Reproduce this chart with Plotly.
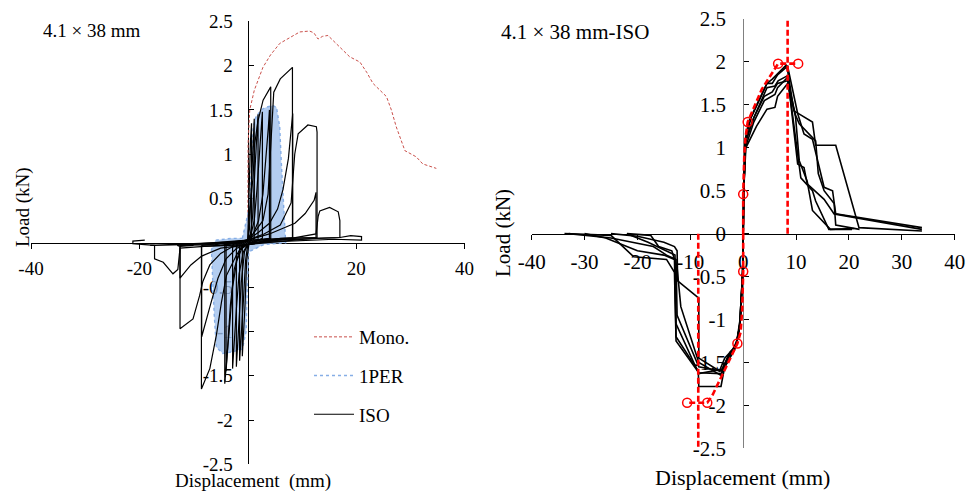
import plotly.graph_objects as go

# ---------------- Left panel data (4.1 x 38 mm) ----------------
mono_x = [0, 0.06, 0.37, 1.2, 2.8, 4.2, 5.9, 7.8, 9.6, 11.4, 12.2, 12.97, 13.8, 14.8, 16.5, 18.8, 20.7, 22.0, 23.1, 25.6, 26.5, 27.4, 29.0, 31.1, 32.3, 34.8]
mono_y = [0, 1.12, 1.50, 1.72, 1.98, 2.12, 2.25, 2.32, 2.38, 2.39, 2.37, 2.30, 2.33, 2.34, 2.24, 2.10, 2.04, 1.92, 1.80, 1.65, 1.50, 1.31, 1.04, 0.97, 0.89, 0.84]

per_x = [-1.0, 0.3, 0.8, 1.0, 1.5, 2.5, 3.4, 4.6, 5.3, 5.9, 6.2, 6.5, 6.8, 7.0, 3.0, 0.2, -0.1, -0.3, -1.0, -2.8, -4.6, -5.8, -6.2, -6.4, -6.7, -6.0, -3.0, -1.0]
per_y = [0.05, 0.4, 1.0, 1.3, 1.42, 1.5, 1.53, 1.55, 1.53, 1.31, 0.9, 0.56, 0.1, 0.0, -0.02, -0.1, -0.5, -1.0, -1.2, -1.23, -1.25, -1.18, -0.8, -0.5, -0.08, 0.03, 0.05, 0.05]

iso_x = [
    [0, 0.1, 0.3, 0.5, 0.7, 0.7, 0.3, -0.2, -0.5, -0.8, -1.0, -1.0, -0.5, 0],
    [-1.0, 0, 0.3, 0.6, 0.9, 1.2, 1.2, 0.5, 0, -0.4, -0.8, -1.2, -1.5, -1.5, -1.0],
    [-1.5, 0, 0.5, 0.9, 1.3, 1.6, 1.9, 1.9, 1.0, 0, -0.6, -1.2, -1.6, -1.9, -2.1, -2.1, -1.5],
    [-2.1, 0, 0.6, 1.2, 1.7, 2.1, 2.4, 2.7, 2.7, 1.5, 0, -0.8, -1.6, -2.1, -2.5, -2.8, -2.8, -2.1],
    [-2.8, 0, 0.37, 0.98, 1.29, 1.9, 2.83, 4.24, 4.24, 2.0, 0, -1.0, -2.0, -2.8, -3.3, -3.8, -4.24, -4.24, -2.8],
    [-4.24, 0, 1.0, 2.0, 2.8, 3.4, 3.8, 4.0, 4.0, 2.0, 0, -1.5, -2.5, -3.2, -3.6, -4.0, -4.0, -4.24],
    [-4.0, 0, 1.0, 2.8, 3.75, 4.06, 4.4, 4.8, 6.0, 8.25, 8.25, 5.0, 0, -0.97, -2.1, -3.94, -4.85, -5.78, -7.0, -8.55, -8.55, -5.0],
    [-5.0, 0, 2.0, 4.0, 5.5, 6.5, 7.5, 8.0, 8.3, 8.3, 4.0, 0, -2.0, -4.0, -5.5, -6.8, -7.8, -8.5, -8.5, -8.55],
    [-8.5, 0, 3.0, 6.0, 8.0, 8.67, 9.3, 11.1, 12.66, 12.79, 12.79, 8.0, 0, -3.0, -5.0, -7.0, -8.3, -8.9, -10.1, -12.5, -12.5, -10.0],
    [-12.5, -6.0, 0, 4.0, 8.7, 10.6, 12.25, 12.6, 12.6, 6.0, 0, -5.0, -8.5, -10.5, -12.5, -12.5, -13.0],
    [-13.0, 0, 8.0, 12.6, 13.0, 13.3, 15.1, 16.7, 17.0, 17.0, 12.0, 0, -8.0, -12.5, -12.9, -13.8, -15.6, -17.2, -17.2, -18.0],
    [-18.0, 0, 10.0, 17.0, 19.0, 21.0, 21.0, 16.0, 0, -10.0, -17.2, -19.0, -21.2, -21.2, -19.0],
]
iso_y = [
    [0, 0.3, 0.8, 1.15, 1.35, 0.03, 0.02, -0.2, -0.7, -1.1, -1.28, -0.03, -0.02, 0],
    [-0.02, 0.02, 0.15, 0.55, 1.0, 1.40, 0.04, 0.02, -0.02, -0.2, -0.65, -1.1, -1.33, -0.03, -0.02],
    [-0.02, 0.03, 0.1, 0.3, 0.8, 1.2, 1.45, 0.04, 0.02, -0.02, -0.1, -0.45, -0.9, -1.2, -1.40, -0.03, -0.02],
    [-0.02, 0.03, 0.1, 0.25, 0.6, 1.0, 1.3, 1.48, 0.05, 0.02, -0.02, -0.1, -0.35, -0.75, -1.15, -1.42, -0.03, -0.02],
    [-0.02, 0.03, 0.37, 0.74, 1.12, 1.38, 1.61, 1.76, 0.05, 0.03, -0.02, -0.05, -0.2, -0.5, -0.9, -1.3, -1.59, -0.03, -0.02],
    [-0.02, 0.03, 0.1, 0.25, 0.55, 0.95, 1.3, 1.5, 0.05, 0.03, -0.02, -0.08, -0.3, -0.7, -1.1, -1.45, -0.03, -0.02],
    [-0.02, 0.03, 0.10, 0.25, 0.55, 0.93, 1.3, 1.7, 1.85, 1.98, 0.05, 0.03, -0.02, -0.03, -0.14, -0.37, -0.67, -1.04, -1.42, -1.65, -0.04, -0.03],
    [-0.03, 0.03, 0.12, 0.22, 0.38, 0.6, 0.95, 1.25, 1.46, 0.06, 0.04, -0.02, -0.06, -0.18, -0.4, -0.68, -0.92, -1.06, -0.04, -0.03],
    [-0.03, 0.03, 0.1, 0.2, 0.45, 1.0, 1.23, 1.33, 1.31, 1.25, 0.06, 0.05, -0.02, -0.05, -0.12, -0.25, -0.44, -0.6, -0.86, -0.97, -0.04, -0.03],
    [-0.03, -0.02, 0.03, 0.1, 0.22, 0.33, 0.48, 0.57, 0.06, 0.05, -0.02, -0.06, -0.15, -0.25, -0.4, -0.04, -0.03],
    [-0.03, 0.03, 0.05, 0.1, 0.3, 0.36, 0.40, 0.35, 0.25, 0.06, 0.05, -0.02, -0.04, -0.06, -0.3, -0.35, -0.22, -0.18, -0.03, -0.03],
    [-0.03, 0.02, 0.04, 0.06, 0.08, 0.07, 0.03, 0.04, 0.0, -0.02, -0.03, -0.02, -0.01, 0.02, 0.03],
]

# ---------------- Right panel data (4.1 x 38 mm-ISO envelopes) ----------------
env_x = [
    [-33.8, -25.0, -20.7, -14.5, -13.0, -12.7, -8.4, -4.2, -3.0, -2.0, -1.2, -0.5, -0.1, 0, 0.1, 0.3, 1.0, 2.5, 4.5, 5.5, 6.3, 8.1, 8.4, 9.6, 13.1, 13.7, 17.5, 21.9, 33.8],
    [-33.0, -25.0, -17.0, -14.5, -12.7, -12.5, -8.4, -4.2, -2.5, -1.3, -0.6, -0.1, 0, 0.1, 0.4, 1.5, 3.0, 4.5, 5.5, 6.5, 8.4, 10.3, 11.5, 13.1, 15.3, 16.9, 17.5, 31.3, 33.8],
    [-22.0, -17.5, -16.0, -13.5, -12.5, -11.8, -8.4, -4.2, -3.0, -1.5, -0.7, -0.1, 0, 0.1, 0.4, 2.0, 4.5, 6.0, 6.6, 8.4, 10.3, 11.5, 12.1, 15.3, 17.2, 22.5, 33.8],
    [-30.0, -26.0, -20.0, -15.0, -13.0, -12.7, -8.5, -8.4, -4.2, -3.5, -1.6, -0.7, -0.1, 0, 0.1, 0.4, 2.0, 4.0, 6.0, 6.5, 8.4, 10.9, 13.1, 13.7, 16.2, 20.6],
    [-25.0, -20.0, -15.0, -13.0, -12.5, -12.4, -8.4, -8.4, -4.5, -3.5, -2.0, -1.2, -0.6, -0.1, 0, 0.1, 0.5, 2.5, 4.5, 6.0, 6.5, 8.4, 9.9, 10.6, 12.1, 13.1, 16.5, 21.0],
    [-22.0, -18.0, -12.9, -12.7, -8.4, -4.0, -2.5, -1.3, -0.5, -0.1, 0, 0.1, 0.5, 2.0, 4.0, 5.5, 6.5, 8.4, 9.9, 10.6, 13.7, 14.2, 15.3, 17.2, 17.5, 22.0],
]
env_y = [
    [0.0, -0.02, -0.27, -0.3, -0.45, -1.25, -1.62, -1.63, -1.5, -1.38, -1.28, -1.0, -0.45, 0, 0.45, 1.05, 1.3, 1.5, 1.75, 1.8, 1.85, 1.96, 1.9, 1.43, 1.30, 1.03, 1.03, 0.07, 0.03],
    [0.0, -0.05, -0.15, -0.25, -0.3, -0.95, -1.55, -1.6, -1.4, -1.3, -1.05, -0.45, 0, 0.5, 1.1, 1.35, 1.55, 1.75, 1.75, 1.85, 1.95, 1.40, 1.16, 1.10, 0.54, 0.5, 0.23, 0.09, 0.07],
    [0.0, -0.02, -0.15, -0.2, -0.4, -0.85, -1.5, -1.65, -1.45, -1.33, -1.1, -0.45, 0, 0.5, 1.05, 1.35, 1.7, 1.72, 1.78, 1.84, 0.81, 0.77, 0.58, 0.40, 0.23, 0.17, 0.05],
    [0.0, -0.05, -0.2, -0.25, -0.3, -1.2, -1.6, -1.78, -1.78, -1.55, -1.35, -1.1, -0.45, 0, 0.5, 1.0, 1.3, 1.55, 1.62, 1.7, 1.82, 0.65, 0.50, 0.38, 0.05, 0.05],
    [0.0, -0.03, -0.1, -0.15, -0.2, -0.55, -0.75, -1.45, -1.6, -1.45, -1.35, -1.25, -1.0, -0.45, 0, 0.5, 1.0, 1.25, 1.45, 1.47, 1.6, 1.75, 1.36, 0.85, 0.61, 0.27, 0.05, 0.06],
    [0.0, -0.1, -0.25, -1.05, -1.63, -1.58, -1.38, -1.3, -1.0, -0.45, 0, 0.5, 1.1, 1.35, 1.6, 1.65, 1.75, 1.78, 1.38, 1.28, 1.08, 0.7, 0.5, 0.35, 0.1, 0.05],
]

red_pos_x = [0, 0.0, 0.2, 0.4, 0.85, 3.5, 6.6, 10.4]
red_pos_y = [0, 0.46, 0.9, 1.1, 1.30, 1.68, 1.98, 1.98]
red_neg_x = [0, 0.0, -0.2, -0.5, -1.1, -5.8, -6.8, -10.6]
red_neg_y = [0, -0.44, -0.9, -1.15, -1.28, -1.88, -1.97, -1.97]
mark_x = [0.0, 0.85, 6.6, 10.4, 0.0, -1.1, -6.8, -10.6]
mark_y = [0.46, 1.30, 1.98, 1.98, -0.44, -1.28, -1.97, -1.97]
vline_pos_x = [8.4, 8.4]
vline_pos_y = [0.0, 2.5]
vline_neg_x = [-8.5, -8.5]
vline_neg_y = [0.0, -2.5]

y_ticks = [-2.5, -2, -1.5, -1, -0.5, 0, 0.5, 1, 1.5, 2, 2.5]
y_text_left = ["-2.5", "-2", "-1.5", "-1", "-0.5", "", "0.5", "1", "1.5", "2", "2.5"]
y_text_right = ["-2.5", "-2", "-1.5", "-1", "-0.5", "0", "0.5", "1", "1.5", "2", "2.5"]
x_ticks_left = [-40, -20, 0, 20, 40]
x_text_left = ["-40", "-20", "", "20", "40"]
x_ticks_right = [-40, -30, -20, -10, 0, 10, 20, 30, 40]
x_text_right = ["-40", "-30", "-20", "-10", "0", "10", "20", "30", "40"]


def join(list_x, list_y):
    xs, ys = [], []
    for lx, ly in zip(list_x, list_y):
        xs += lx + [None]
        ys += ly + [None]
    return xs, ys


FONT = "Liberation Serif"
W, H = 968, 492

fig = go.Figure()

# left panel traces
fig.add_trace(go.Scatter(x=mono_x, y=mono_y, mode="lines", name="Mono.", legendgroup="a",
                         line=dict(color="#c9504b", width=1, dash="3px,2px"),
                         xaxis="x", yaxis="y"))
fig.add_trace(go.Scatter(x=per_x, y=per_y, mode="lines", fill="toself", fillcolor="rgba(160,192,236,0.8)",
                         line=dict(width=0), showlegend=False, hoverinfo="skip",
                         xaxis="x", yaxis="y"))
fig.add_trace(go.Scatter(x=per_x, y=per_y, mode="lines", name="1PER", legendgroup="b",
                         line=dict(color="#86aee6", width=1.4, dash="dot"),
                         xaxis="x", yaxis="y"))
ix, iy = join(iso_x, iso_y)
fig.add_trace(go.Scatter(x=ix, y=iy, mode="lines", name="ISO", legendgroup="c",
                         line=dict(color="black", width=1.2),
                         xaxis="x", yaxis="y"))

# right panel traces
ex, ey = join(env_x, env_y)
fig.add_trace(go.Scatter(x=ex, y=ey, mode="lines", showlegend=False,
                         line=dict(color="black", width=1.6), xaxis="x2", yaxis="y2"))
for vx, vy in ((vline_pos_x, vline_pos_y), (vline_neg_x, vline_neg_y),
               (red_pos_x, red_pos_y), (red_neg_x, red_neg_y)):
    fig.add_trace(go.Scatter(x=vx, y=vy, mode="lines", showlegend=False,
                             line=dict(color="#ff0000", width=2.6, dash="6px,3px"),
                             xaxis="x2", yaxis="y2"))
fig.add_trace(go.Scatter(x=mark_x, y=mark_y, mode="markers", showlegend=False,
                         marker=dict(symbol="circle-open", size=9, color="#ff0000", line=dict(width=1.5)),
                         xaxis="x2", yaxis="y2"))

xl_dom = [31 / W, 464.5 / W]
xr_dom = [531.7 / W, 954.7 / W]
yl_dom = [27.7 / H, 470.7 / H]
yr_dom = [43.7 / H, 473.0 / H]

common = dict(showgrid=False, zeroline=False, showline=True, linewidth=1.2, automargin=False,
              layer="below traces", ticks="outside", ticklen=5, tickwidth=1.2)

fig.update_layout(
    template="none",
    width=W, height=H,
    margin=dict(l=0, r=0, t=0, b=0, pad=0, autoexpand=False),
    paper_bgcolor="white", plot_bgcolor="white",
    font=dict(family=FONT, color="black", size=18),
    showlegend=True,
    legend=dict(x=309 / W, y=(H - 318) / H, xanchor="left", yanchor="top",
                font=dict(family=FONT, size=19), bgcolor="rgba(0,0,0,0)",
                itemwidth=40, tracegroupgap=11),
    xaxis=dict(domain=xl_dom, range=[-40, 40], anchor="free", position=sum(yl_dom) / 2,
               tickvals=x_ticks_left, ticktext=x_text_left, linecolor="black", tickcolor="black",
               tickfont=dict(family=FONT, size=19), ticklabelstandoff=3, **common),
    yaxis=dict(domain=yl_dom, range=[-2.5, 2.5], anchor="free", position=sum(xl_dom) / 2,
               tickvals=y_ticks, ticktext=y_text_left, linecolor="black", tickcolor="black",
               tickfont=dict(family=FONT, size=19), ticklabelstandoff=11,
               **{**common, "ticks": "inside"}),
    xaxis2=dict(domain=xr_dom, range=[-40, 40], anchor="free", position=sum(yr_dom) / 2,
                tickvals=x_ticks_right, ticktext=x_text_right, linecolor="black", tickcolor="black",
                tickfont=dict(family=FONT, size=21), ticklabelstandoff=4, **common),
    yaxis2=dict(domain=yr_dom, range=[-2.5, 2.5], anchor="free", position=sum(xr_dom) / 2,
                tickvals=y_ticks, ticktext=y_text_right, linecolor="#808080", tickcolor="black",
                tickfont=dict(family=FONT, size=21), ticklabelstandoff=13,
                **{**common, "ticks": "inside"}),
)

annots = [
    dict(text="4.1 × 38 mm", x=91, y=31, size=19, angle=0),
    dict(text="4.1 × 38 mm-ISO", x=575, y=32, size=21, angle=0),
    dict(text="Load (kN)", x=23, y=207, size=19, angle=-90),
    dict(text="Load (kN)", x=503, y=233, size=21, angle=-90),
    dict(text="Displacement  (mm)", x=253, y=481, size=19, angle=0),
    dict(text="Displacement (mm)", x=742, y=477, size=22, angle=0),
]
for a in annots:
    fig.add_annotation(text=a["text"], x=a["x"] / W, y=1 - a["y"] / H, xref="paper", yref="paper",
                       xanchor="center", yanchor="middle", showarrow=False, textangle=a["angle"],
                       font=dict(family=FONT, size=a["size"], color="black"))

fig.write_html("out.html", config={"displayModeBar": False},
               post_script="document.body.style.margin='0';document.body.style.overflow='hidden';")
